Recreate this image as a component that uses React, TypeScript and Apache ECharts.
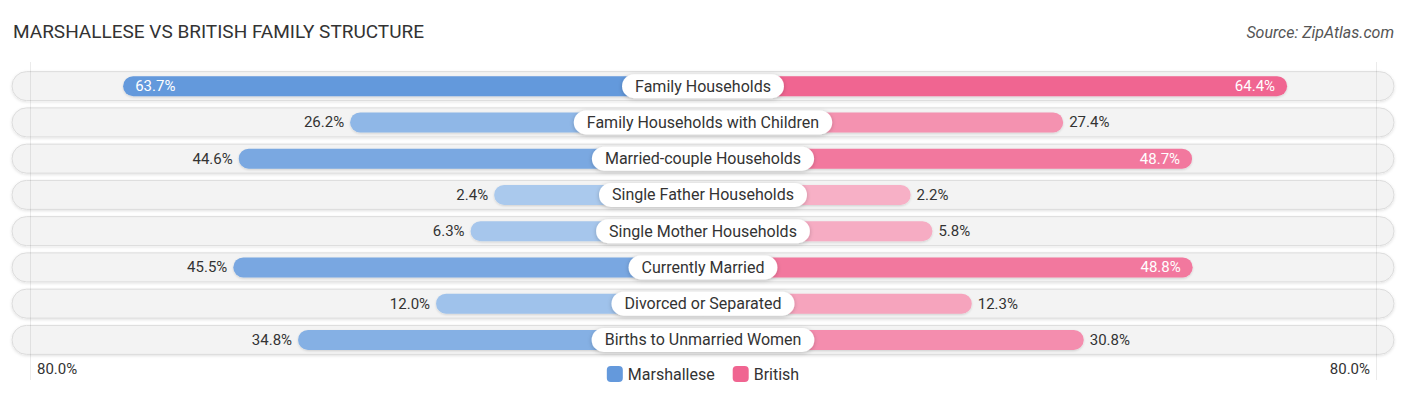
import React, { useEffect, useRef } from "react";
import * as echarts from "echarts";

const categories = [
  "Family Households",
  "Family Households with Children",
  "Married-couple Households",
  "Single Father Households",
  "Single Mother Households",
  "Currently Married",
  "Divorced or Separated",
  "Births to Unmarried Women",
];
const marshallese = [63.7, 26.2, 44.6, 2.4, 6.3, 45.5, 12.0, 34.8];
const british = [64.4, 27.4, 48.7, 2.2, 5.8, 48.8, 12.3, 30.8];
const seriesNames = ["Marshallese", "British"];
const axisEndLabel = "80.0%";

const TITLE = "MARSHALLESE VS BRITISH FAMILY STRUCTURE";
const SOURCE = "Source: ZipAtlas.com";

const OFFSET = 32.1; // bar length hidden under the centre label, in % units
const AXMAX = 114.16;
const FONT = "Roboto, 'Noto Sans', sans-serif";

const BLUE_LIGHT = [173, 203, 238];
const BLUE_DARK = [100, 153, 220];
const PINK_LIGHT = [247, 179, 200];
const PINK_DARK = [240, 101, 145];

function mix(a: number[], b: number[], v: number) {
  const t = Math.max(0, Math.min(1, v / 64));
  const c = a.map((x, i) => Math.round(x + (b[i] - x) * t));
  return `rgb(${c[0]},${c[1]},${c[2]})`;
}

function barData(values: number[], left: boolean) {
  return values.map((v) => {
    const inside = v > 47;
    return {
      value: left ? -(OFFSET + v) : OFFSET + v,
      itemStyle: {
        color: left ? mix(BLUE_LIGHT, BLUE_DARK, v) : mix(PINK_LIGHT, PINK_DARK, v),
      },
      label: {
        show: true,
        position: left ? (inside ? "insideLeft" : "left") : inside ? "insideRight" : "right",
        distance: inside ? 12 : 6,
        color: inside ? "#ffffff" : "#333333",
        fontSize: 15,
        fontFamily: FONT,
        formatter: v.toFixed(1) + "%",
      },
    };
  });
}

export default function App() {
  const ref = useRef<HTMLDivElement>(null);
  useEffect(() => {
    if (!ref.current) return;
    const chart = echarts.init(ref.current, null, { renderer: "svg" });
    chart.setOption({
      animation: false,
      backgroundColor: "#ffffff",
      textStyle: { fontFamily: FONT },
      grid: { left: 12, right: 12, top: 68, height: 290, containLabel: false },
      xAxis: {
        type: "value",
        min: -AXMAX,
        max: AXMAX,
        show: false,
      },
      yAxis: {
        type: "category",
        data: categories,
        inverse: true,
        show: false,
      },
      legend: {
        data: seriesNames,
        left: "center",
        top: 361,
        itemWidth: 16,
        itemHeight: 16,
        itemGap: 18,
        icon: "roundRect",
        textStyle: { fontSize: 16, color: "#333333", fontFamily: FONT },
      },
      graphic: [
        {
          type: "text",
          left: 13,
          top: 22,
          style: { text: TITLE, fontSize: 19, fill: "#333333", fontFamily: FONT },
        },
        {
          type: "text",
          right: 12,
          top: 24,
          style: { text: SOURCE, fontSize: 16, fill: "#555555", fontStyle: "italic", fontFamily: FONT },
        },
        {
          type: "line",
          shape: { x1: 30.5, y1: 62, x2: 30.5, y2: 380 },
          style: { stroke: "rgba(0,0,0,0.08)", lineWidth: 1 },
          z: 10,
        },
        {
          type: "line",
          shape: { x1: 1376.5, y1: 62, x2: 1376.5, y2: 380 },
          style: { stroke: "rgba(0,0,0,0.08)", lineWidth: 1 },
          z: 10,
        },
        {
          type: "text",
          left: 37,
          top: 361,
          style: { text: axisEndLabel, fontSize: 15, fill: "#333333", fontFamily: FONT },
        },
        {
          type: "text",
          right: 36,
          top: 361,
          style: { text: axisEndLabel, fontSize: 15, fill: "#333333", fontFamily: FONT },
        },
      ],
      series: [
        {
          type: "custom",
          z: 1,
          silent: true,
          data: categories.map((_, i) => [AXMAX, i]),
          encode: { x: 0, y: 1 },
          renderItem: (params: any, api: any) => {
            const idx = api.value(1);
            const p1 = api.coord([-AXMAX, idx]);
            const p2 = api.coord([AXMAX, idx]);
            return {
              type: "rect",
              shape: { x: p1[0], y: p1[1] - 14.5, width: p2[0] - p1[0], height: 29, r: 14.5 },
              style: {
                fill: "#f3f3f3",
                stroke: "#dcdcdc",
                lineWidth: 1,
                shadowBlur: 3,
                shadowColor: "rgba(0,0,0,0.12)",
                shadowOffsetY: 1,
              },
            };
          },
        },
        {
          name: seriesNames[0],
          type: "bar",
          z: 2,
          barWidth: 20,
          barGap: "-100%",
          itemStyle: {
            color: "rgb(100,153,220)",
            borderRadius: [10, 0, 0, 10],
            shadowBlur: 2,
            shadowColor: "rgba(0,0,0,0.15)",
            shadowOffsetY: 1,
          },
          data: barData(marshallese, true),
        },
        {
          name: seriesNames[1],
          type: "bar",
          z: 2,
          barWidth: 20,
          barGap: "-100%",
          itemStyle: {
            color: "rgb(240,101,145)",
            borderRadius: [0, 10, 10, 0],
            shadowBlur: 2,
            shadowColor: "rgba(0,0,0,0.15)",
            shadowOffsetY: 1,
          },
          data: barData(british, false),
        },
        {
          type: "scatter",
          z: 3,
          silent: true,
          symbolSize: 1,
          itemStyle: { color: "rgba(0,0,0,0)", opacity: 1 },
          data: categories.map((c, i) => [0, i]),
          label: {
            show: true,
            position: "inside",
            formatter: (p: any) => categories[p.dataIndex],
            fontSize: 16,
            lineHeight: 18,
            color: "#333333",
            fontFamily: FONT,
            backgroundColor: "#ffffff",
            borderRadius: 12,
            padding: [3, 13, 3, 13],
            shadowBlur: 4,
            shadowColor: "rgba(0,0,0,0.22)",
            shadowOffsetY: 1,
          },
        },
      ],
    });
    return () => chart.dispose();
  }, []);
  return <div ref={ref} style={{ width: 1406, height: 395, position: "absolute", left: 0, top: 0 }} />;
}
